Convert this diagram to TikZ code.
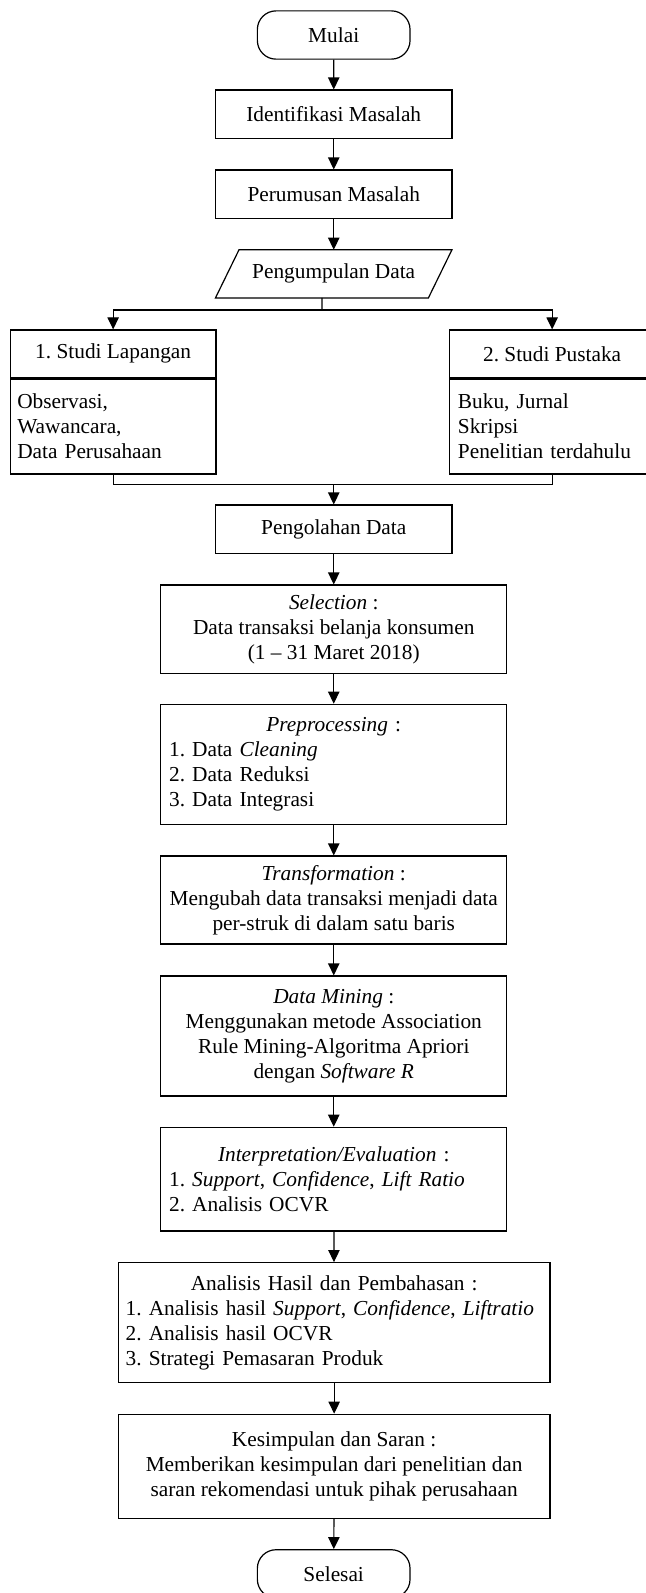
\documentclass[tikz,border=0pt]{standalone}
\usepackage{fontspec}
\setmainfont{Liberation Serif}
\usetikzlibrary{arrows.meta}
\frenchspacing
\begin{document}
\begin{tikzpicture}[x=0.75pt,y=-0.75pt,
  every node/.style={font=\fontsize{16}{18.75}\selectfont},
  box/.style={draw, line width=0.9pt, inner sep=0pt, align=center},
  term/.style={box, rounded corners=14pt, minimum width=114.5pt, minimum height=36.2pt},
  small/.style={box, minimum width=177.4pt, minimum height=36.2pt},
  mid/.style={box, minimum width=259.5pt},
  midlist/.style={draw, line width=0.9pt, inner ysep=0pt, inner xsep=6.25pt, text width=247pt, align=left},
  wide/.style={box, minimum width=323.8pt},
  widelist/.style={draw, line width=0.9pt, inner ysep=0pt, inner xsep=5.55pt, text width=312.7pt, align=left},
  hdr/.style={box, minimum width=154.3pt, minimum height=35.8pt},
  arr/.style={line width=0.9pt, -{Triangle[length=9pt,width=8.5pt]}},
  ln/.style={line width=0.9pt}
]
\useasboundingbox (0,0) rectangle (646,1593);
\fill[white] (0,0) rectangle (646,1593);
\clip (0,0) rectangle (646,1593);

% nodes
\node[term] (mulai) at (333.7,35) {Mulai};
\node[small] (ident) at (333.75,114.2) {Identifikasi Masalah};
\node[small] (perum) at (333.75,194.2) {Perumusan Masalah};
\node[inner sep=0pt, minimum width=177pt, minimum height=35.8pt] (pd) at (333.7,273.85) {Pengumpulan Data};
\draw[ln] ([xshift=17.7pt]pd.north west) -- (pd.north east) -- ([xshift=-17.7pt]pd.south east) -- (pd.south west) -- cycle;
\coordinate (pdb) at ([xshift=-8.85pt]pd.south);

\node[hdr] (slh) at (113.15,353.85) {1. Studi Lapangan};
\node[draw, line width=0.9pt, inner ysep=0pt, inner xsep=5.25pt, text width=143.8pt, align=left, minimum height=71.25pt, anchor=north] (slb) at (slh.south) {Observasi,\\Wawancara,\\Data Perusahaan};
\node[hdr] (sph) at (552.15,353.85) {2. Studi Pustaka};
\node[draw, line width=0.9pt, inner ysep=0pt, inner xsep=6.5pt, text width=141.3pt, align=left, minimum height=71.25pt, anchor=north] (spb) at (sph.south) {Buku, Jurnal\\Skripsi\\Penelitian terdahulu};

\node[small] (olah) at (333.75,529.2) {Pengolahan Data};
\node[mid, minimum height=66.2pt] (sel) at (333.75,629.2) {\textit{Selection} :\\Data transaksi belanja konsumen\\(1 -- 31 Maret 2018)};
\node[midlist, minimum height=90pt] (pre) at (333.75,764.3) {{\centering\textit{Preprocessing} :\par}1. Data \textit{Cleaning}\\2. Data Reduksi\\3. Data Integrasi};
\node[mid, minimum height=66pt] (trans) at (333.75,900) {\textit{Transformation} :\\Mengubah data transaksi menjadi data\\per-struk di dalam satu baris};
\node[mid, minimum height=90pt] (dm) at (333.75,1036) {\textit{Data Mining} :\\Menggunakan metode Association\\Rule Mining-Algoritma Apriori\\dengan \textit{Software R}};
\node[midlist, minimum height=77.8pt] (interp) at (333.75,1179.2) {{\centering\textit{Interpretation/Evaluation} :\par}1. \textit{Support}, \textit{Confidence}, \textit{Lift Ratio}\\2. Analisis OCVR};
\node[widelist, minimum height=90pt] (anal) at (334.15,1322.7) {{\centering Analisis Hasil dan Pembahasan :\par}1. Analisis hasil \textit{Support}, \textit{Confidence}, \textit{Liftratio}\\2. Analisis hasil OCVR\\3. Strategi Pemasaran Produk};
\node[wide, minimum height=78pt] (kes) at (334.15,1466.3) {Kesimpulan dan Saran :\\Memberikan kesimpulan dari penelitian dan\\saran rekomendasi untuk pihak perusahaan};
\node[term] (selesai) at (333.7,1573.85) {Selesai};

% connectors
\draw[arr] (mulai) -- (ident);
\draw[arr] (ident) -- (perum);
\draw[arr] (perum) -- (perum |- pd.north);
\coordinate (br) at (322,310);
\draw[ln] (pdb) -- (br);
\draw[arr] (br) -| (slh.north);
\draw[arr] (br) -| (sph.north);
\coordinate (mg) at (333.75,484.5);
\draw[ln] (slb.south) |- (mg);
\draw[ln] (spb.south) |- (mg);
\draw[arr] (mg) -- (olah);
\draw[arr] (olah) -- (sel);
\draw[arr] (sel) -- (pre);
\draw[arr] (pre) -- (trans);
\draw[arr] (trans) -- (dm);
\draw[arr] (dm) -- (interp);
\draw[arr] (interp) -- (anal);
\draw[arr] (anal) -- (kes);
\draw[arr] (kes) -- (selesai);
\end{tikzpicture}
\end{document}
